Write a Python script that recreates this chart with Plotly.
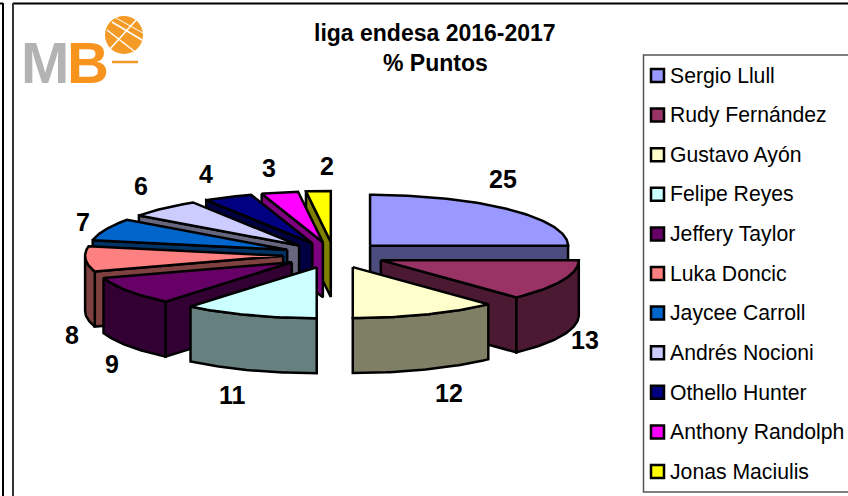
import math
import plotly.graph_objects as go

players = ["Sergio Llull", "Rudy Fernández", "Gustavo Ayón", "Felipe Reyes", "Jeffery Taylor",
           "Luka Doncic", "Jaycee Carroll", "Andrés Nocioni", "Othello Hunter", "Anthony Randolph",
           "Jonas Maciulis"]
puntos = [25, 13, 12, 11, 9, 8, 7, 6, 4, 3, 2]
top_colors = ["#9999FF", "#993366", "#FFFFCC", "#CCFFFF", "#660066", "#FF8080",
              "#0066CC", "#CCCCFF", "#000080", "#FF00FF", "#FFFF00"]
title_lines = ["liga endesa 2016-2017", "% Puntos"]

W, H = 848, 496
CX, CY, RX, RY, DEPTH, EXPLODE = 334, 255, 198, 51, 55, 0.255
LABEL_POS = [(503, 179), (585, 340), (449, 393), (232, 395), (112, 364), (72, 335),
             (83, 222), (141, 186), (206, 174), (269, 168), (327, 166)]
DRAW_ORDER = [0, 1, 2, 10, 9, 8, 7, 6, 5, 4, 3]


def darken(c):
    return "#" + "".join(f"{int(c[i:i + 2], 16) // 2:02X}" for i in (1, 3, 5))


def arc(ox, oy, a0, a1):
    n = max(2, int(abs(a1 - a0)) + 1)
    pts = []
    for k in range(n + 1):
        a = math.radians(a0 + (a1 - a0) * k / n)
        pts.append((ox + RX * math.sin(a), oy - RY * math.cos(a)))
    return pts


fig = go.Figure()


def poly(pts, color):
    xs = [p[0] for p in pts] + [pts[0][0]]
    ys = [p[1] for p in pts] + [pts[0][1]]
    fig.add_trace(go.Scatter(x=xs, y=ys, mode="lines", fill="toself", fillcolor=color,
                             line=dict(color="black", width=2.5, shape="linear"),
                             hoverinfo="skip", showlegend=False))


total = sum(puntos)
bounds = [0]
for v in puntos:
    bounds.append(bounds[-1] + v / total * 360)

for i in DRAW_ORDER:
    a0, a1 = bounds[i], bounds[i + 1]
    mid = math.radians((a0 + a1) / 2)
    ox = CX + EXPLODE * 200 * math.sin(mid)
    oy = CY - EXPLODE * RY * math.cos(mid)
    side = darken(top_colors[i])
    # radial walls facing the viewer
    if math.sin(math.radians(a0)) < -1e-6:
        p = arc(ox, oy, a0, a0)[0]
        poly([(ox, oy), p, (p[0], p[1] + DEPTH), (ox, oy + DEPTH)], side)
    if math.sin(math.radians(a1)) > 1e-6:
        p = arc(ox, oy, a1, a1)[0]
        poly([(ox, oy), p, (p[0], p[1] + DEPTH), (ox, oy + DEPTH)], side)
    # rim wall on the near half of the ellipse
    f0, f1 = max(a0, 90), min(a1, 270)
    if f1 > f0:
        rim = arc(ox, oy, f0, f1)
        poly(rim + [(x, y + DEPTH) for x, y in reversed(rim)], side)
    # top face
    poly([(ox, oy)] + arc(ox, oy, a0, a1), top_colors[i])

# legend rows
LEG_X, LEG_Y0, LEG_DY = 657.5, 75.5, 39.6
leg_y = [LEG_Y0 + LEG_DY * k for k in range(len(players))]
for k, name in enumerate(players):
    fig.add_trace(go.Scatter(x=[LEG_X], y=[leg_y[k]], mode="markers", name=name,
                             marker=dict(symbol="square", size=13, color=top_colors[k],
                                         line=dict(color="black", width=2.5)),
                             hoverinfo="name", showlegend=False))

ann = []
for k, name in enumerate(players):
    ann.append(dict(x=668, y=leg_y[k], text=name, xanchor="left", yanchor="middle", showarrow=False,
                    font=dict(family="Liberation Sans", size=21.2, color="black")))
for v, (x, y) in zip(puntos, LABEL_POS):
    ann.append(dict(x=x, y=y, text=str(v), xanchor="center", yanchor="middle", showarrow=False,
                    font=dict(family="Liberation Sans", size=25, color="black", weight="bold")))
for line, y in zip(title_lines, (33, 63)):
    ann.append(dict(x=435, y=y, text=line, xanchor="center", yanchor="middle", showarrow=False,
                    font=dict(family="Liberation Sans", size=23, color="black", weight="bold")))
ann.append(dict(x=19, y=62, text="M", xanchor="left", yanchor="middle", showarrow=False,
                font=dict(family="Liberation Sans", size=58, color="#B3B3B3", weight="bold")))
ann.append(dict(x=65, y=62, text="B", xanchor="left", yanchor="middle", showarrow=False,
                font=dict(family="Liberation Sans", size=58, color="#F7941D", weight="bold")))

ORANGE = "#F39A27"
shapes = [
    dict(type="rect", x0=643.5, y0=55, x1=860, y1=492, line=dict(color="#555555", width=1.5), layer="below"),
    dict(type="line", x0=-2, y0=3.5, x1=3, y1=3.5, line=dict(color="black", width=2)),
    dict(type="line", x0=3, y0=3, x1=3, y1=500, line=dict(color="black", width=2)),
    dict(type="line", x0=13, y0=3.5, x1=860, y1=3.5, line=dict(color="black", width=2)),
    dict(type="line", x0=13, y0=3, x1=13, y1=500, line=dict(color="#333333", width=2)),
    dict(type="circle", x0=105, y0=16, x1=143, y1=54, fillcolor=ORANGE, line=dict(width=0)),
    dict(type="line", x0=112, y0=22, x1=142, y1=40, line=dict(color="white", width=1.5)),
    dict(type="line", x0=107, y0=30, x1=134, y1=51, line=dict(color="white", width=1.5)),
    dict(type="line", x0=116, y0=18, x1=143, y1=33, line=dict(color="white", width=1)),
    dict(type="line", x0=110, y0=49, x1=137, y1=19, line=dict(color="white", width=1.5)),
    dict(type="line", x0=112, y0=62, x1=138, y1=62, line=dict(color=ORANGE, width=2.5)),
]

fig.update_layout(
    width=W, height=H, margin=dict(l=0, r=0, t=0, b=0), showlegend=False,
    paper_bgcolor="white", plot_bgcolor="white", annotations=ann, shapes=shapes,
    xaxis=dict(range=[0, W], visible=False, fixedrange=True),
    yaxis=dict(range=[H, 0], visible=False, fixedrange=True),
)
fig.write_html("out.html", config=dict(displayModeBar=False),
               post_script="document.body.style.margin='0';document.body.style.overflow='hidden';")
